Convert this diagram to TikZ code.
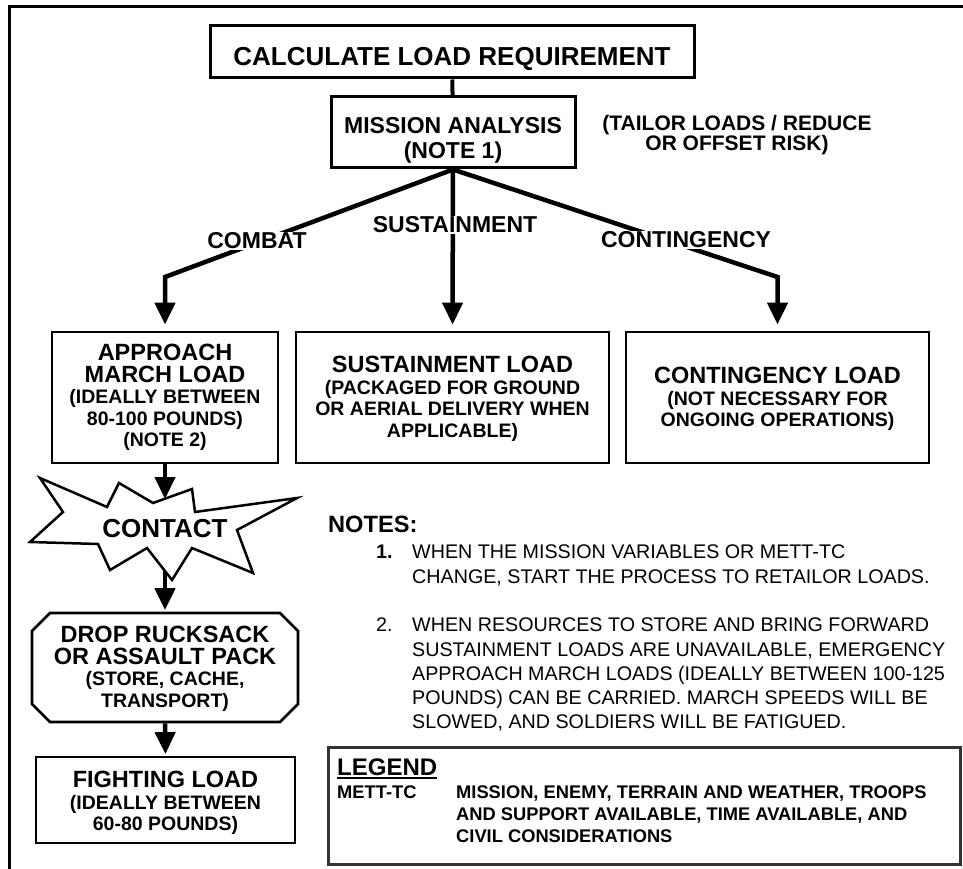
\documentclass[tikz,border=0pt]{standalone}
\usepackage{fontspec}
\setmainfont{Liberation Sans}
\usetikzlibrary{arrows.meta,shapes.misc}

\newcommand{\headfont}{\fontsize{26}{26}\selectfont\bfseries}
\newcommand{\midfont}{\fontsize{23}{20}\selectfont\bfseries}
\newcommand{\ttlfont}{\fontsize{23.5}{21.5}\selectfont\bfseries}
\newcommand{\subfont}{\fontsize{19.5}{21.5}\selectfont\bfseries}
\newcommand{\notefont}{\fontsize{19.7}{24.2}\selectfont}
\newcommand{\lgdfont}{\fontsize{18.3}{22}\selectfont\bfseries}

\tikzset{
	box/.style={draw, line width=2.8pt, align=center, inner sep=0pt, font=\subfont},
	arr/.style={line width=4.5pt, -{Triangle[width=20pt,length=22pt]}},
	branch/.style={fill=white, inner sep=1pt, font=\midfont},
	notetext/.style={inner sep=0pt, align=left, font=\notefont},
}

\begin{document}
\begin{tikzpicture}[x=1pt,y=-1pt]
			\useasboundingbox (0,0) rectangle (963,869);
			\draw[line width=3pt] (9,869) -- (9,7) -- (963,7);

			\node[box, line width=3pt, minimum width=484pt, minimum height=52pt, font=\headfont, text height=26.6pt, text depth=0pt] (calc) at (452,52) {CALCULATE LOAD REQUIREMENT};
			\node[box, line width=3pt, minimum width=244pt, minimum height=71pt, font=\midfont] (mission) at (453,132.5) {\rule{0pt}{31pt}MISSION ANALYSIS\\[5pt](NOTE 1)};
			\node[align=center, font=\fontsize{21}{20}\selectfont\bfseries] (tailor) at (737,135) {(TAILOR LOADS / REDUCE\\OR OFFSET RISK)};

			\node[box, minimum width=226pt, minimum height=131pt] (approach) at (165,397.5) {\ttlfont APPROACH\\\ttlfont MARCH LOAD\\(IDEALLY BETWEEN\\80-100 POUNDS)\\(NOTE 2)};
			\node[box, minimum width=313pt, minimum height=131pt] (sustain) at (452.5,397.5) {\ttlfont\rule{0pt}{19pt}SUSTAINMENT LOAD\\(PACKAGED FOR GROUND\\OR AERIAL DELIVERY WHEN\\APPLICABLE)};
			\node[box, minimum width=303pt, minimum height=131pt] (conting) at (777.5,397.5) {\ttlfont\rule{0pt}{20pt}CONTINGENCY LOAD\\(NOT NECESSARY FOR\\ONGOING OPERATIONS)};

			\coordinate (cbend) at (165,277);
			\coordinate (gbend) at (777.5,277);

			\draw[line width=4pt] (calc) to (mission);
			\draw[arr, shorten >=6pt] (mission.south) -- (cbend) -- (approach.north);
			\draw[arr, shorten >=6pt] (mission.south) to (sustain.north);
			\draw[arr, shorten >=6pt] (mission.south) -- (gbend) -- (conting.north);

			\node[branch] (combat) at (257,241) {COMBAT};
			\node[branch] (sustlbl) at (455,225) {SUSTAINMENT};
			\node[branch] (contlbl) at (686,240) {CONTINGENCY};

			\draw[line width=2.5pt, fill=white] (40,478) -- (107,507) -- (119,483) -- (153,503) -- (192,489) -- (195,512) -- (297,498) -- (237,530) -- (253,573) -- (192,548) -- (172,580) -- (147,548) -- (110,570) -- (98,544) -- (30,542) -- (63,512) -- cycle;
			\node[font=\fontsize{26}{26}\selectfont\bfseries] (contact) at (165,529) {CONTACT};
			\coordinate (ctop) at (165,499);
			\coordinate (cbot) at (165,571);

			\node[box, chamfered rectangle, chamfered rectangle xsep=9pt, chamfered rectangle ysep=9pt, minimum width=266pt, minimum height=109pt] (drop) at (165,667.5) {\ttlfont\rule{0pt}{19pt}DROP RUCKSACK\\\ttlfont OR ASSAULT PACK\\(STORE, CACHE,\\TRANSPORT)};
			\node[box, minimum width=259pt, minimum height=86pt] (fight) at (165.5,800) {\ttlfont\rule{0pt}{23pt}FIGHTING LOAD\\(IDEALLY BETWEEN\\60-80 POUNDS)};

			\draw[arr] (approach.south) to (ctop);
			\draw[arr, shorten >=1.5pt] (cbot) to (drop.north);
			\draw[arr, shorten >=1.5pt] (drop.south) to (fight.north);

			\node[anchor=west, inner sep=0pt, font=\fontsize{23.6}{24}\selectfont\bfseries] (notes) at (328,524) {NOTES:};
			\node[anchor=west, inner sep=0pt, font=\notefont\bfseries] (n1num) at (376,552) {1.};
			\node[notetext, anchor=north west] (n1) at (412,545) {WHEN THE MISSION VARIABLES OR METT-TC\\CHANGE, START THE PROCESS TO RETAILOR LOADS.};
			\node[anchor=west, inner sep=0pt, font=\notefont] (n2num) at (376,625) {2.};
			\node[notetext, anchor=north west] (n2) at (412,618) {WHEN RESOURCES TO STORE AND BRING FORWARD\\SUSTAINMENT LOADS ARE UNAVAILABLE, EMERGENCY\\APPROACH MARCH LOADS (IDEALLY BETWEEN 100-125\\POUNDS) CAN BE CARRIED. MARCH SPEEDS WILL BE\\SLOWED, AND SOLDIERS WILL BE FATIGUED.};

			\node[draw=black!80, line width=3pt, minimum width=632pt, minimum height=117pt, inner sep=0pt] (legend) at (644,805.5) {};
			\node[anchor=west, inner sep=0pt, font=\fontsize{24}{24}\selectfont\bfseries] (lgdtitle) at (337,767) {LEGEND};
			\draw[line width=2pt] ([yshift=-2.5pt]lgdtitle.south west) -- ([yshift=-2.5pt]lgdtitle.south east);
			\node[anchor=west, inner sep=0pt, font=\lgdfont] (mett) at (337,792) {METT-TC};
			\node[anchor=north west, inner sep=0pt, align=left, font=\lgdfont] (mettdef) at (456,785.5) {MISSION, ENEMY, TERRAIN AND WEATHER, TROOPS\\AND SUPPORT AVAILABLE, TIME AVAILABLE, AND\\CIVIL CONSIDERATIONS};

		\end{tikzpicture}
\end{document}
